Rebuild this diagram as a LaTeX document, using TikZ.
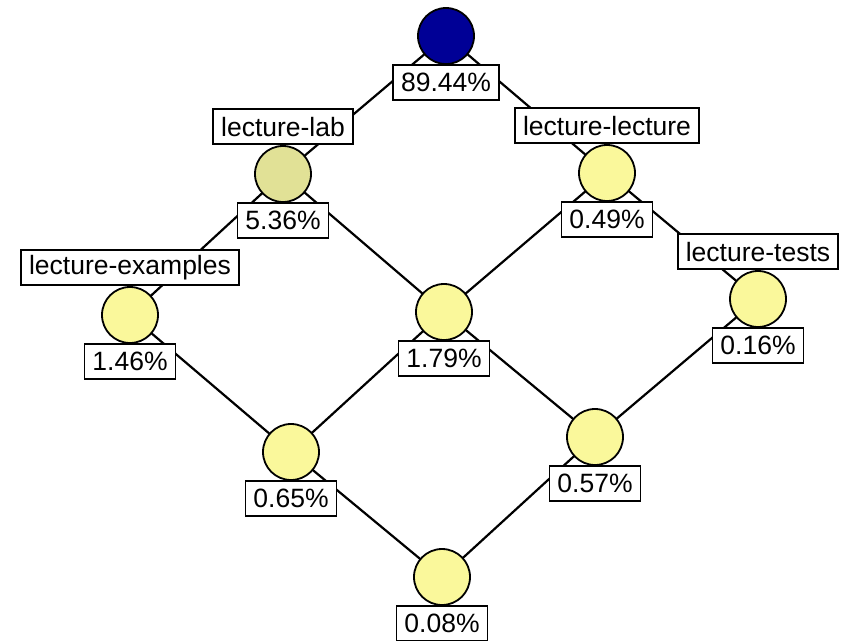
\documentclass[tikz,border=0pt]{standalone}
\usepackage{fontspec}
\setmainfont{Liberation Sans}
\pgfdeclarelayer{bg}
\pgfsetlayers{bg,main}
\definecolor{dblue}{RGB}{0,0,150}
\definecolor{olivey}{RGB}{225,225,150}
\definecolor{lyellow}{RGB}{250,248,155}
\tikzset{
  st/.style={circle, draw=black, line width=1.8pt, minimum size=56pt, inner sep=0pt, fill=lyellow},
  lbl/.style={draw=black, fill=white, line width=1.7pt, minimum height=35pt, inner xsep=8pt, inner ysep=0pt,
    font=\fontsize{26.5}{30}\selectfont},
  edge/.style={draw=black, line width=2.2pt}
}
\begin{document}
\begin{tikzpicture}[x=1pt,y=-1pt]
\useasboundingbox (0,0) rectangle (842,640);
\node[st, fill=dblue] (top) at (446,36) {};
\node[st, fill=olivey] (lab) at (283,174) {};
\node[st] (lec) at (607,173) {};
\node[st] (ex) at (130,315) {};
\node[st] (mid) at (444,312) {};
\node[st] (tests) at (758,299) {};
\node[st] (n65) at (291,452) {};
\node[st] (n57) at (595,437) {};
\node[st] (bot) at (442,577) {};
% labels below
\node[lbl, anchor=north] (ltop) at ([yshift=1pt]top.south) {89.44\%};
\node[lbl, anchor=north] (llab) at ([yshift=1pt]lab.south) {5.36\%};
\node[lbl, anchor=north] (llec) at ([yshift=1pt]lec.south) {0.49\%};
\node[lbl, anchor=north] (lex) at ([yshift=1pt]ex.south) {1.46\%};
\node[lbl, anchor=north] (lmid) at ([yshift=1pt]mid.south) {1.79\%};
\node[lbl, anchor=north] (ltests) at ([yshift=1pt]tests.south) {0.16\%};
\node[lbl, anchor=north] (l65) at ([yshift=1pt]n65.south) {0.65\%};
\node[lbl, anchor=north] (l57) at ([yshift=1pt]n57.south) {0.57\%};
\node[lbl, anchor=north] (lbot) at ([yshift=1pt]bot.south) {0.08\%};
% labels above
\node[lbl, anchor=south] (nlab) at (lab.north) {lecture-lab};
\node[lbl, anchor=south] (nlec) at (lec.north) {lecture-lecture};
\node[lbl, anchor=south] (nex) at (ex.north) {lecture-examples};
\node[lbl, anchor=south] (ntests) at (tests.north) {lecture-tests};
\begin{pgfonlayer}{bg}
\path[edge] (top.center) -- (lab.center);
\path[edge] (top.center) -- (lec.center);
\path[edge] (lab.center) -- (ex.center);
\path[edge] (lab.center) -- (mid.center);
\path[edge] (lec.center) -- (mid.center);
\path[edge] (lec.center) -- (tests.center);
\path[edge] (ex.center) -- (n65.center);
\path[edge] (mid.center) -- (n65.center);
\path[edge] (mid.center) -- (n57.center);
\path[edge] (tests.center) -- (n57.center);
\path[edge] (n65.center) -- (bot.center);
\path[edge] (n57.center) -- (bot.center);
\end{pgfonlayer}
\end{tikzpicture}
\end{document}
